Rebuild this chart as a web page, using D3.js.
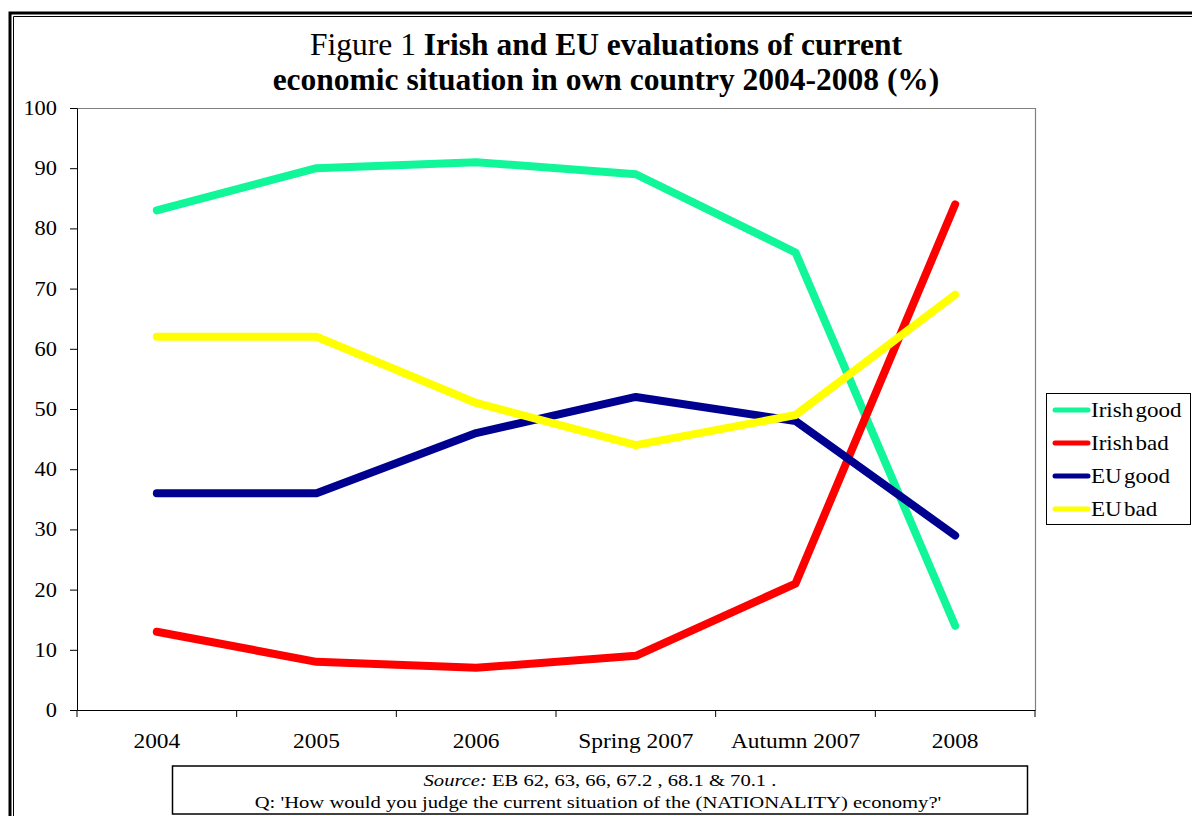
<!DOCTYPE html>
<html><head><meta charset="utf-8">
<script src="https://cdn.jsdelivr.net/npm/d3@7"></script>
<style>body{margin:0;background:#fff}svg{display:block}</style>
</head><body>
<svg id="c" width="1192" height="816"></svg>
<script>
const categories = ["2004","2005","2006","Spring 2007","Autumn 2007","2008"];
const irishGood = [83,90,91,89,76,14];
const irishBad = [13,8,7,9,21,84];
const euGood = [36,36,46,52,48,29];
const euBad = [62,62,51,44,49,69];
const seriesNames = ["Irish good","Irish bad","EU good","EU bad"];
const seriesColors = ["#10F698","#FF0000","#000090","#FFFF00"];
const yTicks = [0,10,20,30,40,50,60,70,80,90,100];

const series = [irishGood, irishBad, euGood, euBad].map((v,i)=>({name:seriesNames[i], color:seriesColors[i], values:v}));
const svg = d3.select("#c");
const serif = "'Liberation Serif','Times New Roman',serif";
const L=77, R=1035, T=108, B=710;

// stretched text helper
function stext(parent, x, y, sx, size){
  return parent.append("text").attr("transform",`translate(${x},${y}) scale(${sx},1)`)
    .attr("font-family",serif).attr("font-size",size).attr("fill","#000");
}

// outer double frame
svg.append("path").attr("d","M10,816V13H1192").attr("fill","none").attr("stroke","#000").attr("stroke-width",3);
svg.append("path").attr("d","M13.5,816V16.5H1192").attr("fill","none").attr("stroke","#000").attr("stroke-width",1);

// title
const title = svg.append("text").attr("text-anchor","middle").attr("font-family",serif).attr("font-size",31.5).attr("fill","#000");
const t1 = title.append("tspan").attr("x",606).attr("y",55);
t1.append("tspan").text("Figure 1 ");
t1.append("tspan").attr("font-weight","bold").text("Irish and EU evaluations of current");
title.append("tspan").attr("x",606).attr("y",90).attr("font-weight","bold").text("economic situation in own country 2004-2008 (%)");

const x = d3.scaleBand().domain(categories).range([L,R]);
const y = d3.scaleLinear().domain([0,100]).range([B,T]);

// plot border (gray top/right)
svg.append("path").attr("d",`M${L},${T+0.5}H${R+0.5}V${B}`).attr("fill","none").attr("stroke","#808080").attr("stroke-width",1.2);

// y axis
const ySX = 1.12, yPad = 13;
const ya = svg.append("g").attr("transform",`translate(${L},0)`)
  .call(d3.axisLeft(y).tickValues(yTicks).tickSize(7).tickPadding(yPad).tickFormat(d3.format("d")));
ya.select(".domain").attr("stroke","#000");
ya.selectAll("text").attr("font-family",serif).attr("font-size",20).attr("fill","#000")
  .attr("x",-(7+yPad)/ySX).attr("transform",`scale(${ySX},1)`);

// x axis
const xSX = 1.17;
const xa = svg.append("g").attr("transform",`translate(0,${B})`)
  .call(d3.axisBottom(x).tickSize(0).tickPadding(24));
xa.select(".domain").attr("stroke","#000");
xa.selectAll("text").attr("font-family",serif).attr("font-size",20).attr("fill","#000")
  .attr("transform",`scale(${xSX},1)`);
const bounds = categories.map(c=>x(c)).concat([x(categories[categories.length-1])+x.bandwidth()]);
xa.selectAll(".bt").data(bounds).join("line").attr("class","bt")
  .attr("x1",d=>d).attr("x2",d=>d).attr("y1",0).attr("y2",7).attr("stroke","#000");

// lines
const line = d3.line().x((d,i)=>x(categories[i])+x.bandwidth()/2).y(d=>y(d));
svg.append("g").selectAll("path").data(series).join("path")
  .attr("d",d=>line(d.values)).attr("fill","none").attr("stroke",d=>d.color)
  .attr("stroke-width",8).attr("stroke-linecap","round").attr("stroke-linejoin","round");

// legend
const lg = svg.append("g");
lg.append("rect").attr("x",1046.5).attr("y",393.5).attr("width",144).attr("height",131).attr("fill","#fff").attr("stroke","#000").attr("stroke-width",1);
series.forEach((s,i)=>{
  const yy = 410 + i*33;
  lg.append("line").attr("x1",1055).attr("x2",1088).attr("y1",yy).attr("y2",yy).attr("stroke",s.color).attr("stroke-width",5).attr("stroke-linecap","round");
  stext(lg, 1091, yy+7, 1.15, 20).attr("word-spacing",-3).text(s.name);
});

// source box
svg.append("rect").attr("x",172.5).attr("y",766).attr("width",855).attr("height",48).attr("fill","#fff").attr("stroke","#000").attr("stroke-width",1.5);
const src1 = stext(svg, 600, 786, 1.25, 16.5).attr("text-anchor","middle");
src1.append("tspan").attr("font-style","italic").text("Source:");
src1.append("tspan").text(" EB 62, 63, 66, 67.2 , 68.1 & 70.1 .");
stext(svg, 598, 808, 1.25, 16.5).attr("text-anchor","middle")
  .text("Q: 'How would you judge the current situation of the (NATIONALITY)  economy?'");
</script>
</body></html>
